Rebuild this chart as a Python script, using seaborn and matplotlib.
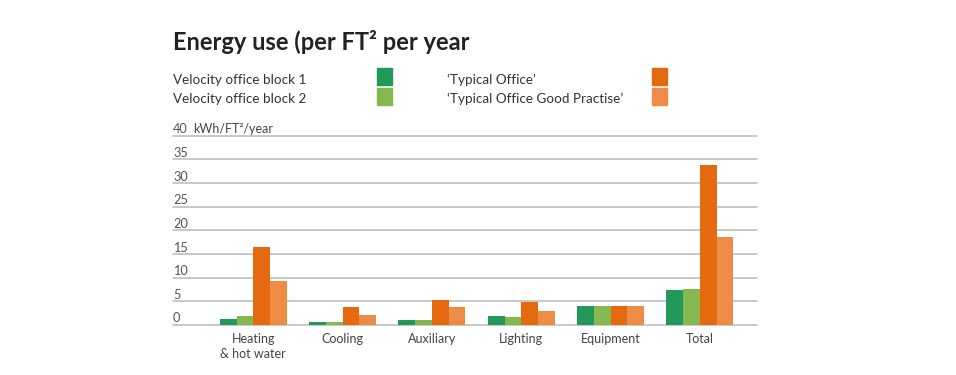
import matplotlib
matplotlib.use("Agg")
import matplotlib.pyplot as plt
from matplotlib.patches import Rectangle
from matplotlib.transforms import offset_copy, blended_transform_factory
import seaborn as sns
import pandas as pd

# ---- data ----
categories = ["Heating\n& hot water", "Cooling", "Auxiliary", "Lighting", "Equipment", "Total"]
series = ["Velocity office block 1", "Velocity office block 2",
          "\u2018Typical Office\u2019", "\u2018Typical Office Good Practise\u2019"]
block1 = [1.3, 0.6, 1.05, 1.9, 4.1, 7.3]
block2 = [1.9, 0.6, 1.05, 1.7, 4.1, 7.7]
typical = [16.5, 3.7, 5.3, 4.9, 4.1, 33.9]
good_practise = [9.3, 2.1, 3.7, 3.0, 4.1, 18.5]
yticks = [0, 5, 10, 15, 20, 25, 30, 35, 40]
title = "Energy use (per FT\u00b2 per year"
unit_label = "kWh/FT\u00b2/year"

colors = ["#22985a", "#86b851", "#e5690f", "#ee8b45"]

rows = []
for s, vals in zip(series, [block1, block2, typical, good_practise]):
    for c, v in zip(categories, vals):
        rows.append({"category": c, "series": s, "value": v})
df = pd.DataFrame(rows)

sns.set_style("white")
plt.rcParams["font.family"] = ["Lato", "DejaVu Sans"]

W, H = 956, 375
fig = plt.figure(figsize=(W / 100, H / 100), dpi=100)
ax = fig.add_axes([173 / W, (H - 325) / H, (757 - 173) / W, (325 - 135.7) / H])

sns.barplot(data=df, x="category", y="value", hue="series", order=categories,
            hue_order=series, palette=colors, width=0.75, gap=0, saturation=1,
            legend=False, ax=ax, zorder=3, linewidth=0, edgecolor="none")

ax.set_xlim(-0.9, 5.64)
ax.set_ylim(0, 40)
for sp in ax.spines.values():
    sp.set_visible(False)
ax.set_yticks(yticks)
ax.set_yticklabels([])
ax.tick_params(axis="y", length=0)
ax.grid(axis="y", color="#b9b9b9", linewidth=1.1, zorder=0)
ax.grid(axis="x", visible=False)
for gl in ax.get_ygridlines():
    gl.set_clip_on(False)
ax.set_axisbelow(True)
ax.set_xlabel("")
ax.set_ylabel("")
ax.tick_params(axis="x", length=0, pad=6, labelsize=9, labelcolor="#444444")
for lbl in ax.get_xticklabels():
    lbl.set_linespacing(1.25)

tr = offset_copy(ax.transData, fig=fig, y=2.5, units="dots")
btr = blended_transform_factory(ax.transAxes, tr)
for t in yticks:
    ax.text(0, t, str(t), transform=btr, ha="left", va="baseline",
            fontsize=9.2, color="#555555")

fig.text(193 / W, 1 - 133 / H, unit_label, fontsize=9, color="#444444", va="baseline")

fig.text(173 / W, 1 - 50 / H, title, fontsize=17, fontweight="bold",
         color="#222222", va="baseline")

# legend
leg_text_x = [173, 173, 447, 447]
leg_base_y = [84, 102.7, 84, 102.7]
sq_x = [377, 377, 652, 652]
sq_y = [67.7, 87.7, 67.7, 87.7]
for i, s in enumerate(series):
    fig.text(leg_text_x[i] / W, 1 - leg_base_y[i] / H, s, fontsize=9.7,
             color="#333333", va="baseline")
    fig.patches.append(Rectangle((sq_x[i] / W, 1 - (sq_y[i] + 17) / H), 15 / W, 17 / H,
                                 transform=fig.transFigure, color=colors[i]))

fig.savefig("out.png", dpi=100)
